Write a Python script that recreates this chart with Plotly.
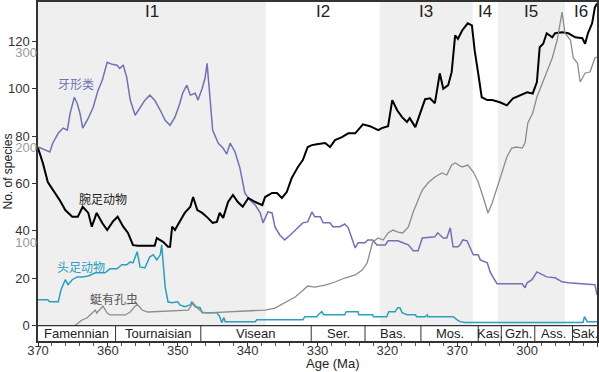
import plotly.graph_objects as go

# ---------------- data ----------------
brach_age = [370.0, 369.3, 368.6, 367.6, 366.9, 366.1, 365.1, 364.3, 363.6, 362.8, 362.3, 361.6, 360.8, 360.1,
             359.3, 358.6, 357.8, 357.1, 356.4, 355.7, 353.3, 353.0, 352.1, 351.4, 351.1, 350.8, 350.4, 350.0,
             349.0, 348.2, 347.8, 347.2, 346.5, 345.7, 345.0, 344.4, 344.0, 343.5, 342.8, 342.1, 341.4, 340.7,
             339.9, 338.9, 337.9, 337.5, 336.5, 335.8, 335.1, 334.4, 333.7, 332.8, 332.1, 331.4, 330.8, 330.1,
             328.9, 328.2, 327.5, 326.5, 325.6, 324.6, 323.5, 322.5, 321.3, 320.8, 319.9, 319.3, 318.6, 317.9,
             317.2, 316.8, 316.0, 315.3, 314.6, 313.9, 313.2, 312.5, 312.0, 311.3, 310.8, 310.3, 309.9, 309.3,
             308.5, 307.9, 307.5, 307.0, 306.5, 305.7, 305.0, 303.9, 302.9, 302.0, 301.0, 300.0, 299.2, 298.6,
             298.2, 297.7, 297.2, 296.4, 296.0, 295.0, 294.1, 293.1, 292.1, 291.7, 291.3, 290.7, 290.3, 290.0]
brach_n = [75.0, 68.6, 60.6, 56.4, 53.0, 48.8, 46.0, 46.0, 50.2, 47.6, 41.8, 47.6, 43.3, 40.4,
           43.9, 46.0, 41.8, 39.0, 34.0, 33.7, 33.7, 37.0, 35.4, 33.3, 33.3, 41.8, 40.4, 42.5,
           47.6, 50.2, 54.3, 48.8, 47.6, 45.5, 43.4, 43.8, 47.6, 45.5, 52.2, 55.2, 52.2, 50.2,
           53.9, 52.2, 50.9, 54.3, 56.0, 56.0, 53.9, 56.4, 62.3, 67.0, 69.9, 75.4, 76.2, 76.6,
           77.1, 75.4, 78.3, 79.6, 81.2, 81.2, 85.0, 84.2, 82.5, 83.4, 84.2, 95.2, 90.9, 88.0,
           86.0, 87.6, 83.8, 89.7, 95.6, 96.0, 93.9, 106.5, 100.0, 101.5, 107.0, 122.5, 121.0, 124.6,
           127.6, 126.7, 116.0, 106.5, 96.4, 95.2, 95.2, 94.3, 93.0, 96.0, 97.3, 98.5, 98.0, 102.8,
           117.5, 119.0, 123.4, 121.7, 123.4, 123.8, 123.4, 121.7, 121.3, 119.0, 123.4, 127.6, 134.3, 136.0]

cono_age = [370.0, 369.0, 368.3, 367.9, 367.1, 366.4, 365.8, 365.4, 364.8, 364.4, 364.0, 363.6, 362.8, 362.1,
            361.4, 360.8, 360.1, 359.4, 358.7, 358.3, 357.8, 357.3, 356.8, 356.1, 355.4, 354.7, 354.0, 353.3,
            352.5, 351.8, 351.1, 350.4, 349.7, 349.3, 348.7, 348.2, 347.5, 347.1, 346.5, 346.1, 345.8, 345.4,
            345.0, 344.2, 343.5, 343.0, 342.5, 341.8, 341.1, 340.4, 339.7, 338.9, 338.2, 337.8, 337.1, 336.5,
            336.1, 335.4, 334.7, 333.9, 332.9, 332.1, 331.4, 330.8, 330.4, 329.6, 329.2, 328.2, 327.8, 326.8,
            326.1, 325.6, 325.1, 324.6, 324.2, 323.2, 322.8, 322.1, 321.5, 320.3, 319.9, 318.5, 317.8, 317.0,
            316.3, 315.6, 315.0, 313.9, 313.2, 312.8, 312.0, 311.5, 311.0, 310.6, 309.9, 309.6, 309.2, 308.6,
            308.2, 307.7, 307.0, 306.7, 305.7, 305.3, 304.9, 304.3, 300.7, 300.3, 300.0, 299.3, 298.6, 297.9,
            297.2, 296.0, 295.0, 294.1, 292.7, 291.3, 290.3, 290.0]
cono_n = [75.4, 74.1, 73.3, 77.0, 81.2, 83.4, 82.5, 89.7, 96.4, 93.9, 89.7, 83.4, 87.6, 92.2,
          99.4, 103.6, 111.2, 110.3, 109.9, 108.6, 109.9, 104.8, 95.2, 88.8, 92.2, 95.2, 97.3, 95.2,
          90.9, 86.7, 84.6, 88.0, 93.9, 98.1, 101.5, 97.3, 98.1, 95.2, 100.2, 104.4, 110.7, 95.2,
          82.5, 77.0, 74.9, 72.4, 77.0, 73.3, 66.5, 56.0, 53.0, 50.9, 47.6, 43.4, 48.0, 47.6,
          41.8, 38.3, 36.2, 38.3, 41.3, 43.4, 43.8, 48.0, 46.0, 46.0, 43.4, 43.4, 41.8, 41.8,
          42.9, 41.3, 37.0, 32.8, 35.0, 35.0, 36.2, 36.2, 34.1, 34.1, 35.8, 35.8, 35.0, 34.1,
          31.6, 31.6, 37.0, 37.5, 37.5, 39.2, 37.0, 37.0, 41.3, 33.3, 33.3, 34.1, 36.2, 35.8,
          33.3, 29.9, 29.9, 27.8, 26.5, 22.7, 20.6, 17.7, 17.7, 16.0, 18.1, 19.4, 22.7, 21.5,
          20.6, 20.2, 18.5, 18.1, 17.7, 17.3, 17.3, 13.0]

ceph_age = [370.0, 368.6, 368.3, 367.1, 366.7, 366.1, 365.7, 365.1, 364.4, 363.7, 362.8, 361.8, 360.4, 359.7,
            358.7, 358.0, 357.3, 356.8, 356.4, 355.8, 355.4, 354.7, 354.0, 353.5, 353.0, 352.5, 352.3, 351.8,
            351.4, 350.8, 350.0, 349.7, 349.0, 348.2, 348.0, 347.5, 346.8, 346.5, 344.4, 344.0, 343.7, 343.4,
            343.2, 338.9, 338.7, 332.1, 331.8, 330.1, 329.9, 329.4, 329.1, 326.1, 325.9, 324.2, 324.1, 322.1,
            322.0, 320.1, 319.8, 318.9, 318.5, 318.2, 317.9, 317.2, 316.0, 315.8, 314.6, 314.3, 314.2, 310.6,
            310.0, 309.6, 308.9, 292.0, 291.8, 291.4, 290.0]
ceph_n = [10.9, 10.9, 10.1, 10.1, 15.2, 19.4, 17.3, 19.4, 20.6, 20.6, 21.0, 22.3, 22.3, 24.0,
          24.0, 25.7, 25.7, 26.9, 26.5, 31.2, 24.8, 24.4, 29.1, 29.9, 27.8, 29.9, 34.1, 16.4,
          10.1, 9.7, 10.1, 8.8, 8.0, 8.8, 10.1, 8.0, 7.6, 5.5, 5.5, 3.8, 1.3, 3.4,
          1.7, 1.7, 2.5, 2.5, 3.8, 3.8, 4.6, 5.9, 4.6, 4.6, 5.9, 5.9, 4.6, 4.6,
          3.8, 3.8, 5.9, 5.9, 7.6, 7.6, 5.5, 4.6, 4.6, 3.8, 3.8, 4.6, 3.8, 3.8,
          2.5, 1.7, 1.3, 1.3, 3.8, 1.7, 1.7]

fusu_age = [364.7, 363.7, 363.0, 362.3, 361.8, 361.6, 361.1, 360.7, 360.1, 359.7, 357.5, 356.8, 356.1, 355.7,
            355.1, 354.3, 348.5, 347.8, 347.2, 346.5, 345.7, 343.2, 337.5, 336.1, 334.7, 333.2, 332.2, 331.4,
            330.4, 329.6, 328.9, 327.5, 326.1, 324.6, 323.6, 322.9, 322.5, 322.1, 321.3, 320.6, 319.9, 319.2,
            318.5, 317.8, 317.0, 316.3, 315.6, 315.0, 314.2, 313.2, 312.2, 311.5, 310.8, 310.3, 309.3, 308.5,
            307.7, 307.0, 306.3, 305.6, 305.0, 304.3, 303.6, 302.9, 302.2, 301.5, 300.7, 300.3, 299.9, 299.2,
            298.6, 297.9, 297.2, 296.4, 295.7, 295.3, 295.0, 294.6, 293.8, 293.4, 292.8, 292.4, 291.7, 291.0,
            290.3, 290.0]
fusu_n = [12.0, 17.9, 20.0, 25.3, 28.4, 25.3, 29.5, 32.6, 25.3, 23.2, 23.2, 26.3, 32.6, 33.7,
          28.4, 26.3, 28.4, 35.8, 30.5, 26.3, 25.3, 26.3, 28.4, 30.5, 35.8, 42.1, 48.4, 53.7,
          52.6, 53.7, 54.7, 57.9, 62.1, 65.3, 70.5, 77.9, 89.5, 100.0, 104.2, 102.1, 109.5, 112.6,
          110.5, 109.5, 115.8, 131.6, 144.2, 154.7, 162.1, 168.4, 172.6, 170.5, 181.0, 183.2, 179.0, 181.0,
          173.7, 163.2, 147.4, 130.5, 141.0, 156.8, 172.6, 189.5, 198.9, 200.0, 198.9, 204.2, 225.3, 235.8,
          252.6, 265.3, 278.9, 293.7, 312.6, 330.5, 342.0, 320.0, 312.6, 293.7, 288.4, 268.4, 277.9, 278.9,
          293.7, 294.7]

interval_names = ["I1", "I2", "I3", "I4", "I5", "I6"]
interval_bounds = [370.0, 337.4, 321.1, 307.8, 304.2, 294.6, 290.0]
interval_shaded = [True, False, True, False, True, False]

stage_names = ["Famennian", "Tournaisian", "Visean", "Ser.", "Bas.", "Mos.", "Kas.", "Gzh.", "Ass.", "Sak."]
stage_bounds = [370.0, 358.9, 346.7, 330.9, 323.2, 315.2, 307.0, 303.7, 298.9, 293.5, 290.0]

x_tickvals = [370, 360, 350, 340, 330, 320, 310, 300, 290]
x_ticktext = ["370", "360", "350", "340", "330", "320", "370", "300", "290"]
y_tickvals = [0, 20, 40, 60, 80, 100, 120]
y2_tickvals = [100, 200, 300]

taxa_labels = ["牙形类", "腕足动物", "头足动物", "蜓有孔虫"]
taxa_label_age = [364.6, 360.7, 363.8, 359.1]
taxa_label_n = [102.4, 53.5, 24.8, 11.3]

# ---------------- style ----------------
C_CONO = "#7171b5"
C_BRACH = "#000000"
C_CEPH = "#2b9fbd"
C_FUSU = "#8c8c8c"
TAXA_COLORS = [C_CONO, "#222222", C_CEPH, "#555555"]
Y_RANGE = [-6.46, 136.6]
Y2_RANGE = [-4.2, 352.6]
FONT = "Liberation Sans, Arial, sans-serif"
CJK = "Noto Sans CJK SC, sans-serif"

fig = go.Figure()

fig.add_trace(go.Scatter(x=fusu_age, y=fusu_n, mode="lines", yaxis="y2",
                         line=dict(color=C_FUSU, width=1.3), showlegend=False))
fig.add_trace(go.Scatter(x=ceph_age, y=ceph_n, mode="lines",
                         line=dict(color=C_CEPH, width=1.5), showlegend=False))
fig.add_trace(go.Scatter(x=cono_age, y=cono_n, mode="lines",
                         line=dict(color=C_CONO, width=1.5), showlegend=False))
fig.add_trace(go.Scatter(x=brach_age, y=brach_n, mode="lines",
                         line=dict(color=C_BRACH, width=2), showlegend=False))

shapes = []
annotations = []
for i, name in enumerate(interval_names):
    a0, a1 = interval_bounds[i], interval_bounds[i + 1]
    if interval_shaded[i]:
        shapes.append(dict(type="rect", xref="x", yref="y", x0=a0, x1=a1, y0=0, y1=Y_RANGE[1],
                           fillcolor="#efefef", line=dict(width=0), layer="below"))
    annotations.append(dict(x=(a0 + a1) / 2, y=132.4, xref="x", yref="y", text=name, showarrow=False,
                            font=dict(family=FONT, size=17, color="#222222")))

shapes.append(dict(type="line", xref="x", yref="y", x0=370, x1=290, y0=0, y1=0,
                   line=dict(color="#333333", width=1.2)))
for i, name in enumerate(stage_names):
    a0, a1 = stage_bounds[i], stage_bounds[i + 1]
    if i > 0:
        shapes.append(dict(type="line", xref="x", yref="y", x0=a0, x1=a0, y0=Y_RANGE[0], y1=0,
                           line=dict(color="#333333", width=1)))
    annotations.append(dict(x=(a0 + a1) / 2, y=-3.3, xref="x", yref="y", text=name, showarrow=False,
                            font=dict(family=FONT, size=13, color="#222222")))

for t, a, n, c in zip(taxa_labels, taxa_label_age, taxa_label_n, TAXA_COLORS):
    annotations.append(dict(x=a, y=n, xref="x", yref="y", text=t, showarrow=False,
                            font=dict(family=CJK, size=12, color=c)))

annotations.append(dict(x=(7 - 38) / 559, y=0.5, xref="paper", yref="paper", text="No. of species",
                        xanchor="center", yanchor="middle", textangle=-90, showarrow=False,
                        font=dict(family=FONT, size=12, color="#222222")))
annotations.append(dict(x=(332 - 38) / 559, y=-(363 - 341) / 339, xref="paper", yref="paper",
                        xanchor="center", yanchor="middle",
                        text="Age (Ma)", showarrow=False, font=dict(family=FONT, size=13, color="#222222")))

fig.update_layout(
    width=599, height=372,
    margin=dict(l=38, r=2, t=2, b=31, autoexpand=False),
    paper_bgcolor="white", plot_bgcolor="white",
    shapes=shapes, annotations=annotations,
    xaxis=dict(range=[370, 290], tickvals=x_tickvals, ticktext=x_ticktext, ticks="outside",
               ticklen=4, tickcolor="#333333", showgrid=False, zeroline=False, automargin=False,
               showline=True, mirror=True, linecolor="#333333", linewidth=1.5,
               ticklabelstandoff=-7,
               tickfont=dict(family=FONT, size=13, color="#333333"),
               minor=dict(dtick=2, ticks="outside", ticklen=3, tickcolor="#555555")),
    yaxis=dict(range=Y_RANGE, tickvals=y_tickvals, ticks="outside", ticklen=4, tickcolor="#333333",
               showgrid=False, zeroline=False, showline=True, mirror=True, linecolor="#333333",
               automargin=False, linewidth=1.5, tickfont=dict(family=FONT, size=13, color="#333333")),
    yaxis2=dict(range=Y2_RANGE, tickvals=y2_tickvals, overlaying="y", side="left", anchor="x",
                showgrid=False, zeroline=False, showline=False, ticks="", automargin=False,
                tickfont=dict(family=FONT, size=13, color="#9a9a9a")),
)

fig.write_html("out.html", config={"displayModeBar": False},
               post_script="document.body.style.margin='0';document.body.style.padding='0';")
